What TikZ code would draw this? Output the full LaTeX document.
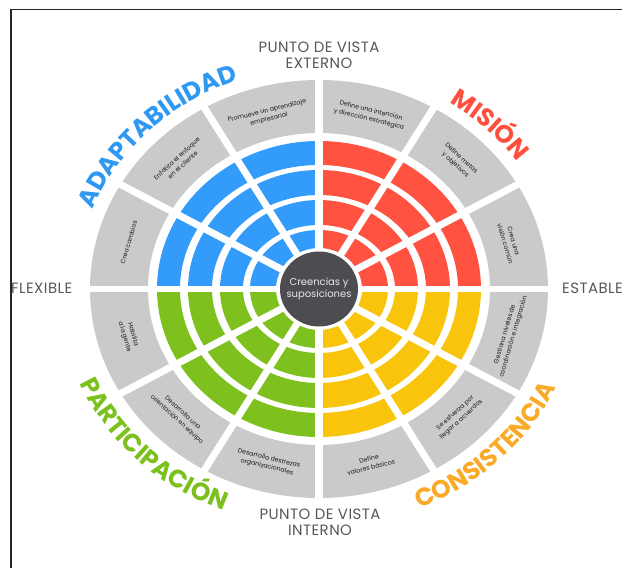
\documentclass[tikz,border=0pt]{standalone}
\usepackage{fontspec}
\setmainfont{Poppins}
\usetikzlibrary{decorations.text}

\definecolor{wheelblue}{RGB}{51,156,250}
\definecolor{wheelred}{RGB}{255,82,64}
\definecolor{wheelyellow}{RGB}{249,197,12}
\definecolor{wheelgreen}{RGB}{126,193,30}
\definecolor{wheelgray}{RGB}{202,202,202}
\definecolor{hubgray}{RGB}{77,77,81}
\definecolor{hubtext}{RGB}{232,232,232}
\definecolor{axisgray}{RGB}{88,88,88}
\definecolor{labelblue}{RGB}{46,152,242}
\definecolor{labelred}{RGB}{255,80,62}
\definecolor{labelorange}{RGB}{251,170,40}
\definecolor{labelgreen}{RGB}{124,192,30}

% direction stretch of the spokes
\newcommand\wheelsx{1.096}

% filled elliptic annular sector:
% colour, start angle, end angle, inner x/y radius, outer x/y radius
\newcommand\annsector[7]{%
  \fill[#1] (#2:{#6} and {#7})
    arc[start angle=#2, end angle=#3, x radius=#6, y radius=#7]
    -- (#3:{#4} and {#5})
    arc[start angle=#3, end angle=#2, x radius=#4, y radius=#5] -- cycle;}

\begin{document}
\begin{tikzpicture}[x=1bp,y=1bp,
  segtext/.style={font=\fontsize{6.3}{8.8}\selectfont, text=black!90, align=center, inner sep=0pt},
  axislabel/.style={font=\fontsize{15}{16}\selectfont\addfontfeature{LetterSpace=3}, text=axisgray, align=center, inner sep=0pt},
  spoke/.style={draw=white, line width=7bp},
]
\useasboundingbox (-319,-279) rectangle (303,289);
\fill[white] (-319,-279) rectangle (303,289);

\begin{scope}
\clip (-319,-279) rectangle (303,289);

% coloured quadrants, four rings each, then the outer grey ring
\foreach \col/\a/\b in {wheelred/0/90, wheelblue/90/180, wheelgreen/180/270, wheelyellow/270/360}{
  \foreach \rix/\riy/\rox/\roy in {43/41/69/59, 76/64/99/89, 107/94/131/119, 139/124/162/148}{
    \annsector{\col}{\a}{\b}{\rix}{\riy}{\rox}{\roy}
  }
  \annsector{wheelgray}{\a}{\b}{171}{156}{229}{209}
}

% white spokes between the sectors
\foreach \a in {30,60,120,150,210,240,300,330}{
  \draw[spoke] (0,0) -- (\a:{\wheelsx*216} and {216});
}
\draw[spoke, line width=7.5bp] (0,-214) -- (0,214);
\draw[spoke, line width=5.5bp] (-236,0) -- (236,0);

% hub
\fill[hubgray] (0,0) ellipse[x radius=39, y radius=37.5];
\node[text=hubtext, align=center, inner sep=0pt, font=\fontsize{10}{12.5}\selectfont] (hub) at (0,0)
      {Creencias y\\suposiciones};

% texts of the grey segments
\foreach \a/\rot/\txt [count=\i] in {
  105/13.7/{Promueve un aprendizaje\\empresarial},
  75/-13.7/{Define una intención\\y dirección estratégica},
  45/-42.4/{Define metas\\y objetivos},
  15/-73.6/{Crea una\\visión común},
  -15/73.6/{Gestiona niveles de\\coordinación e integración},
  -45/42.4/{Se esfuerza por\\llegar a acuerdos},
  -75/13.7/{Define\\valores básicos},
  -105/-13.7/{Desarrolla destrezas\\organizacionales},
  -135/-42.4/{Desarrolla una\\orientación en equipo},
  -165/-73.6/{Habilita\\a la gente},
  165/73.6/{Crea cambios},
  135/42.4/{Enfatiza el enfoque\\en el cliente}}{
  \node[segtext, rotate=\rot] (seg\i) at (\a:{197} and {180}) {\txt};
}

% curved quadrant titles
\path[decorate, decoration={text along path, text align=center, text color=labelblue,
    text={|\fontsize{25}{25}\selectfont\bfseries|ADAPTABILIDAD}}]
  (180:{\wheelsx*221} and {221}) arc[start angle=180, end angle=90, x radius={\wheelsx*221}, y radius=221];
\path[decorate, decoration={text along path, text align=center, text color=labelred,
    text={|\fontsize{25}{25}\selectfont\bfseries|MISIÓN}}]
  (90:{\wheelsx*221} and {221}) arc[start angle=90, end angle=0, x radius={\wheelsx*221}, y radius=221];
\path[decorate, decoration={text along path, text align=center, text color=labelorange,
    text={|\fontsize{25}{25}\selectfont\bfseries|CONSISTENCIA}}]
  (270:{\wheelsx*238} and {238}) arc[start angle=270, end angle=360, x radius={\wheelsx*238}, y radius=238];
\path[decorate, decoration={text along path, text align=center, text color=labelgreen,
    text={|\fontsize{25}{25}\selectfont\bfseries|PARTICIPACIÓN}}]
  (180:{\wheelsx*238} and {238}) arc[start angle=180, end angle=270, x radius={\wheelsx*238}, y radius=238];

% axis labels
\node[axislabel] (ext) at (0,233.5) {PUNTO DE VISTA\\EXTERNO};
\node[axislabel] (int) at (1,-233.5) {PUNTO DE VISTA\\INTERNO};
\node[axislabel, anchor=base west] (flex) at (-308,-4.5) {FLEXIBLE};
\node[axislabel, anchor=base west] (est) at (243,-5) {ESTABLE};

% frame
\draw[black!85, line width=1.8bp] (310,279.5) -- (-308,279.5) -- (-308,-290);
\end{scope}
\end{tikzpicture}
\end{document}
